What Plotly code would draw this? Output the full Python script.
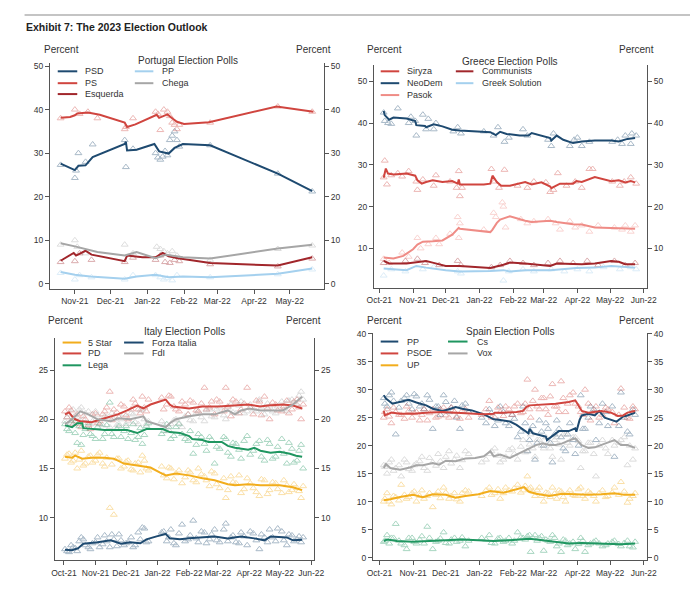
import plotly.graph_objects as go

# ======================= DATA =======================
# ---- Portugal ----
PT_PSD_LINE_D = ["2021-10-20","2021-11-01","2021-11-04","2021-11-10","2021-11-16","2021-11-23","2021-12-13","2021-12-14","2021-12-15","2021-12-23","2022-01-07","2022-01-11","2022-01-17","2022-01-19","2022-01-24","2022-01-31","2022-02-23","2022-04-21","2022-05-20"]
PT_PSD_LINE_V = [27.6,26.1,27.1,27.2,29.1,29.9,32.1,32.6,30.6,30.8,32.1,30.4,29.9,29.9,31.2,32.1,31.8,25.3,21.3]
PT_PS_LINE_D = ["2021-10-20","2021-10-28","2021-11-01","2021-11-03","2021-11-12","2021-11-22","2021-12-13","2021-12-15","2021-12-22","2022-01-09","2022-01-11","2022-01-18","2022-01-22","2022-01-26","2022-02-01","2022-02-22","2022-04-20","2022-05-21"]
PT_PS_LINE_V = [38.1,38.3,38.7,39.1,39.3,38.8,37.0,36.0,36.6,38.8,38.1,38.9,38.0,37.2,36.7,37.1,40.7,39.5]
PT_ESQ_LINE_D = ["2021-10-20","2021-10-31","2021-11-02","2021-11-10","2021-11-15","2021-12-13","2021-12-15","2021-12-28","2022-01-08","2022-01-14","2022-01-19","2022-01-27","2022-02-23","2022-04-21","2022-05-20"]
PT_ESQ_LINE_V = [5.3,7.1,6.5,7.6,6.7,5.2,6.5,6.1,6.1,7.1,6.3,5.9,4.8,4.2,6.1]
PT_CHEGA_LINE_D = ["2021-10-20","2021-11-01","2021-11-20","2021-12-13","2021-12-23","2022-01-08","2022-01-17","2022-01-31","2022-02-23","2022-04-21","2022-05-20"]
PT_CHEGA_LINE_V = [9.3,8.6,7.3,6.5,7.3,5.9,6.7,6.1,5.8,8.1,9.0]
PT_PP_LINE_D = ["2021-10-20","2021-11-01","2021-11-14","2021-12-13","2021-12-23","2022-01-08","2022-01-19","2022-01-31","2022-02-23","2022-04-21","2022-05-20"]
PT_PP_LINE_V = [2.7,2.1,1.7,1.2,1.7,2.1,1.5,1.7,1.5,2.3,3.5]

PT_PSD_PTS_D = ["2021-10-20","2021-11-01","2021-11-02","2021-11-04","2021-11-10","2021-11-16","2021-12-13","2021-12-14","2021-12-20","2022-01-08","2022-01-10","2022-01-12","2022-01-14","2022-01-16","2022-01-18","2022-01-20","2022-01-22","2022-01-24","2022-01-26","2022-01-28","2022-02-23","2022-04-21","2022-05-20"]
PT_PSD_PTS_V = [27.3,24.3,26.0,30.0,28.0,32.0,33.0,26.8,31.0,30.0,29.0,28.5,29.2,30.5,29.5,33.0,34.0,35.0,33.0,31.5,31.8,25.3,21.2]
PT_PS_PTS_D = ["2021-10-20","2021-11-01","2021-11-05","2021-11-12","2021-11-20","2021-12-13","2021-12-14","2021-12-20","2022-01-08","2022-01-10","2022-01-12","2022-01-15","2022-01-18","2022-01-20","2022-01-22","2022-01-24","2022-01-26","2022-01-28","2022-02-23","2022-04-21","2022-05-20"]
PT_PS_PTS_V = [38.0,40.0,39.0,39.5,38.0,35.5,36.0,38.0,39.5,39.0,35.3,40.0,39.5,38.5,37.0,36.5,35.5,36.5,37.0,40.7,39.5]
PT_ESQ_PTS_D = ["2021-10-20","2021-11-01","2021-11-05","2021-11-15","2021-12-13","2021-12-20","2022-01-08","2022-01-12","2022-01-16","2022-01-20","2022-01-24","2022-01-28","2022-02-23","2022-04-21","2022-05-20"]
PT_ESQ_PTS_V = [5.0,5.2,7.0,5.5,5.0,6.0,5.5,6.5,5.0,4.8,5.5,5.2,4.5,4.0,5.8]
PT_CHEGA_PTS_D = ["2021-10-20","2021-11-01","2021-11-03","2021-11-10","2021-12-13","2021-12-20","2022-01-09","2022-01-12","2022-01-15","2022-01-18","2022-01-22","2022-01-26","2022-02-23","2022-04-21","2022-05-20"]
PT_CHEGA_PTS_V = [9.0,10.0,8.5,7.0,9.0,7.0,8.5,8.0,7.5,7.0,7.5,6.5,5.5,8.0,8.8]
PT_PP_PTS_D = ["2021-10-20","2021-11-01","2021-11-05","2021-11-15","2021-12-13","2021-12-20","2022-01-08","2022-01-12","2022-01-15","2022-01-18","2022-01-22","2022-01-26","2022-02-23","2022-04-21","2022-05-20"]
PT_PP_PTS_V = [2.5,1.0,2.0,1.5,1.0,2.0,2.0,1.5,1.0,1.3,0.8,2.0,1.5,2.2,3.3]

# ---- Greece ----
GR_ND_LINE_D = ["2021-10-05","2021-10-06","2021-10-10","2021-10-14","2021-10-26","2021-11-03","2021-11-04","2021-11-12","2021-11-13","2021-11-20","2021-11-28","2021-12-07","2021-12-14","2022-01-05","2022-01-11","2022-01-16","2022-01-20","2022-01-26","2022-02-07","2022-02-15","2022-02-18","2022-03-07","2022-03-08","2022-03-13","2022-03-19","2022-03-28","2022-04-05","2022-04-17","2022-05-02","2022-05-09","2022-05-17","2022-05-24"]
GR_ND_LINE_V = [42.9,41.9,40.8,41.3,41.1,40.5,39.5,39.3,39.0,39.7,39.2,38.4,38.2,37.9,37.8,37.1,37.9,37.4,37.0,37.0,37.6,36.4,35.8,37.0,36.0,35.2,35.6,35.8,35.8,35.6,36.2,36.4]
GR_SYR_LINE_D = ["2021-10-05","2021-10-07","2021-10-09","2021-10-14","2021-10-26","2021-11-03","2021-11-05","2021-11-09","2021-11-13","2021-11-19","2021-11-28","2021-12-07","2021-12-12","2021-12-13","2021-12-14","2022-01-05","2022-01-11","2022-01-13","2022-01-17","2022-01-21","2022-01-29","2022-02-12","2022-02-18","2022-02-27","2022-03-07","2022-03-08","2022-03-16","2022-03-28","2022-03-31","2022-04-05","2022-04-17","2022-05-02","2022-05-09","2022-05-15","2022-05-20","2022-05-24"]
GR_SYR_LINE_V = [26.9,29.1,27.9,27.7,27.9,27.4,26.3,25.5,25.9,26.3,25.9,26.1,25.5,26.5,25.3,25.3,25.5,27.4,25.9,25.0,25.0,25.9,25.3,25.8,24.8,24.4,25.5,25.5,26.1,25.9,27.1,26.1,26.3,25.8,26.1,25.8]
GR_PAS_LINE_D = ["2021-10-05","2021-10-14","2021-10-23","2021-11-01","2021-11-05","2021-11-10","2021-11-19","2021-11-28","2021-12-07","2021-12-13","2021-12-14","2022-01-11","2022-01-13","2022-01-17","2022-01-20","2022-01-29","2022-02-12","2022-02-18","2022-03-07","2022-03-13","2022-03-28","2022-04-05","2022-04-17","2022-05-02","2022-05-17","2022-05-24"]
GR_PAS_LINE_V = [7.8,7.6,8.2,9.8,10.9,11.6,11.7,11.9,13.3,14.9,14.7,13.9,14.5,16.1,16.9,17.7,16.6,16.3,16.6,16.3,15.8,15.7,15.0,14.9,14.7,14.7]
GR_COM_LINE_D = ["2021-10-05","2021-10-10","2021-10-26","2021-11-07","2021-11-13","2021-11-19","2021-12-01","2021-12-14","2022-01-11","2022-01-23","2022-01-29","2022-02-12","2022-03-07","2022-03-13","2022-04-05","2022-04-17","2022-05-02","2022-05-09","2022-05-15","2022-05-24"]
GR_COM_LINE_V = [7.0,6.4,6.4,6.8,7.0,6.6,5.8,5.8,5.3,6.1,6.6,6.4,5.8,6.4,6.2,6.4,7.0,6.8,6.2,6.2]
GR_GS_LINE_D = ["2021-10-05","2021-10-26","2021-11-04","2021-11-13","2021-12-01","2021-12-14","2022-01-11","2022-01-23","2022-01-29","2022-02-12","2022-03-07","2022-03-31","2022-04-17","2022-05-02","2022-05-24"]
GR_GS_LINE_V = [5.2,4.8,5.8,5.4,4.8,4.5,4.6,4.8,4.5,4.8,4.8,5.3,5.4,5.8,5.4]

GR_ND_PTS_D = ["2021-10-05","2021-10-06","2021-10-09","2021-10-12","2021-10-18","2021-10-28","2021-10-30","2021-11-03","2021-11-04","2021-11-10","2021-11-13","2021-11-15","2021-11-20","2021-11-22","2021-12-08","2021-12-12","2021-12-15","2022-01-05","2022-01-14","2022-01-18","2022-01-24","2022-01-28","2022-02-10","2022-02-14","2022-03-05","2022-03-08","2022-03-10","2022-03-25","2022-03-29","2022-04-01","2022-04-05","2022-04-12","2022-05-03","2022-05-08","2022-05-12","2022-05-15","2022-05-20","2022-05-21","2022-05-25"]
GR_ND_PTS_V = [42.5,40.5,40.0,39.8,43.5,40.0,41.5,40.5,37.0,42.0,38.5,41.0,38.5,40.0,38.0,39.0,37.5,38.0,37.0,39.0,35.5,36.5,38.5,37.0,36.0,34.5,37.5,34.5,36.0,36.5,34.5,35.5,35.5,36.0,35.0,37.0,35.0,37.5,37.0]
GR_SYR_PTS_D = ["2021-10-05","2021-10-06","2021-10-08","2021-10-12","2021-10-18","2021-10-22","2021-10-28","2021-11-04","2021-11-05","2021-11-10","2021-11-20","2021-11-22","2021-12-05","2021-12-11","2021-12-13","2021-12-14","2021-12-16","2022-01-12","2022-01-15","2022-01-19","2022-01-24","2022-02-05","2022-02-14","2022-02-20","2022-03-03","2022-03-07","2022-03-10","2022-03-14","2022-03-22","2022-03-30","2022-04-05","2022-04-12","2022-04-15","2022-05-03","2022-05-10","2022-05-14","2022-05-20","2022-05-25"]
GR_SYR_PTS_V = [27.0,31.0,25.3,27.5,28.0,27.2,28.5,26.0,24.0,26.5,25.0,27.5,26.0,24.5,28.5,22.5,24.5,29.0,26.0,24.5,28.8,25.0,24.5,26.0,25.8,23.5,24.0,28.0,25.0,26.0,24.5,29.0,29.0,26.0,25.0,26.0,27.0,25.5]
GR_PAS_PTS_D = ["2021-10-05","2021-10-10","2021-10-22","2021-10-28","2021-11-05","2021-11-08","2021-11-15","2021-11-22","2021-11-25","2021-12-05","2021-12-12","2021-12-13","2021-12-14","2022-01-05","2022-01-14","2022-01-16","2022-01-22","2022-01-23","2022-01-25","2022-02-08","2022-02-14","2022-02-20","2022-03-05","2022-03-12","2022-03-16","2022-03-25","2022-03-30","2022-04-05","2022-04-12","2022-04-20","2022-05-05","2022-05-12","2022-05-15","2022-05-20","2022-05-24"]
GR_PAS_PTS_V = [7.5,6.5,9.0,8.0,12.5,10.0,11.0,12.5,11.0,13.5,17.5,12.5,16.0,14.5,18.5,17.5,21.0,20.0,15.0,17.0,16.0,16.5,17.0,16.0,14.5,16.5,15.0,15.5,14.0,15.5,15.0,14.5,15.5,14.0,15.5]
GR_COM_PTS_D = ["2021-10-05","2021-10-25","2021-11-05","2021-11-12","2021-11-25","2021-12-12","2021-12-15","2022-01-12","2022-01-20","2022-01-29","2022-02-10","2022-02-20","2022-03-05","2022-03-16","2022-03-28","2022-04-10","2022-04-20","2022-05-05","2022-05-15","2022-05-24"]
GR_COM_PTS_V = [6.5,7.0,7.5,6.5,6.0,7.0,6.0,5.5,6.0,7.0,6.5,6.0,6.5,7.0,6.5,7.0,6.0,7.0,6.0,6.5]
GR_GS_PTS_D = ["2021-10-05","2021-10-12","2021-10-25","2021-11-10","2021-11-20","2021-12-12","2021-12-15","2022-01-12","2022-01-23","2022-01-28","2022-02-10","2022-02-20","2022-03-08","2022-03-20","2022-04-01","2022-04-12","2022-04-25","2022-05-10","2022-05-20","2022-05-25"]
GR_GS_PTS_V = [3.5,5.0,4.5,5.0,5.5,4.5,4.0,5.0,2.3,4.5,5.0,4.5,5.0,4.5,5.0,4.5,5.5,5.0,5.5,5.0]

# ---- Italy ----
IT_PD_LINE_D = ["2021-10-02","2021-10-06","2021-10-09","2021-10-12","2021-10-17","2021-10-28","2021-11-10","2021-11-23","2021-12-02","2021-12-12","2021-12-18","2021-12-25","2022-01-03","2022-01-09","2022-01-13","2022-01-16","2022-02-01","2022-02-14","2022-03-02","2022-03-18","2022-03-31","2022-04-12","2022-04-19","2022-05-04","2022-05-14","2022-05-23"]
IT_PD_LINE_V = [20.5,20.7,20.3,20.0,19.8,19.7,20.1,20.5,20.9,21.4,21.1,21.5,21.8,22.0,21.5,21.3,21.1,21.3,21.3,21.4,21.5,21.3,21.4,21.5,21.4,21.1]
IT_FDI_LINE_D = ["2021-10-02","2021-10-09","2021-10-17","2021-10-25","2021-11-03","2021-11-16","2021-11-23","2021-12-05","2021-12-18","2021-12-21","2021-12-31","2022-01-09","2022-01-13","2022-01-19","2022-02-01","2022-02-14","2022-02-26","2022-03-11","2022-03-18","2022-03-24","2022-04-01","2022-04-12","2022-04-25","2022-05-04","2022-05-14","2022-05-23"]
IT_FDI_LINE_V = [19.5,20.0,20.8,20.5,20.0,19.8,20.1,20.0,20.3,19.8,19.5,19.2,19.6,20.0,20.3,20.5,20.5,20.9,20.5,20.9,21.1,20.9,20.9,20.9,21.5,22.3]
IT_LEGA_LINE_D = ["2021-10-02","2021-10-09","2021-10-14","2021-10-19","2021-10-20","2021-10-28","2021-11-10","2021-11-23","2021-12-02","2021-12-12","2021-12-21","2022-01-06","2022-01-13","2022-01-23","2022-02-01","2022-02-04","2022-02-14","2022-02-20","2022-03-05","2022-03-11","2022-03-18","2022-03-31","2022-04-06","2022-04-12","2022-04-22","2022-05-01","2022-05-11","2022-05-17","2022-05-23"]
IT_LEGA_LINE_V = [19.4,19.2,19.6,19.6,19.1,19.0,18.9,18.9,18.9,18.6,19.0,19.0,18.7,18.6,18.3,18.0,17.9,17.7,17.7,17.3,17.1,16.9,17.1,16.8,16.6,16.7,16.5,16.3,16.2]
IT_5S_LINE_D = ["2021-10-02","2021-10-09","2021-10-12","2021-10-19","2021-10-28","2021-11-10","2021-11-19","2021-11-29","2021-12-12","2021-12-25","2022-01-03","2022-01-09","2022-01-19","2022-02-01","2022-02-14","2022-02-26","2022-03-11","2022-03-18","2022-03-31","2022-04-12","2022-05-01","2022-05-14","2022-05-23"]
IT_5S_LINE_V = [16.2,16.1,16.3,16.0,16.1,16.1,16.0,15.5,15.3,15.1,14.6,14.3,14.5,14.3,14.0,13.8,13.4,13.3,13.4,13.3,13.3,13.1,12.8]
IT_FI_LINE_D = ["2021-10-02","2021-10-09","2021-10-15","2021-10-20","2021-11-03","2021-11-16","2021-11-26","2021-12-05","2021-12-15","2021-12-21","2021-12-31","2022-01-09","2022-01-13","2022-01-23","2022-02-01","2022-02-14","2022-02-26","2022-03-11","2022-03-24","2022-04-06","2022-04-16","2022-04-22","2022-05-08","2022-05-14","2022-05-23"]
IT_FI_LINE_V = [6.75,6.7,6.9,7.35,7.5,7.7,7.35,7.5,7.4,7.8,8.1,8.35,7.9,7.8,7.9,8.0,8.1,7.9,8.1,7.9,7.7,8.1,8.0,7.7,7.75]

IT_POLL_DATES = ["2021-10-02","2021-10-06","2021-10-10","2021-10-14","2021-10-18","2021-10-22","2021-10-27","2021-11-01","2021-11-05","2021-11-10","2021-11-15","2021-11-19","2021-11-24","2021-11-29","2021-12-03","2021-12-08","2021-12-13","2021-12-17","2021-12-21","2022-01-05","2022-01-10","2022-01-14","2022-01-19","2022-01-25","2022-01-31","2022-02-05","2022-02-10","2022-02-16","2022-02-21","2022-02-26","2022-03-03","2022-03-09","2022-03-14","2022-03-19","2022-03-24","2022-03-30","2022-04-05","2022-04-11","2022-04-16","2022-04-21","2022-04-27","2022-05-03","2022-05-08","2022-05-13","2022-05-18","2022-05-22","2022-05-24"]
IT_PD_PTS = [20.8,21.2,19.5,20.5,19.2,20.0,19.0,20.6,19.8,20.8,22.8,21.0,20.2,21.3,20.0,22.0,21.0,22.3,20.8,22.2,21.5,22.3,21.0,21.8,20.5,21.7,20.8,23.2,21.2,20.5,21.8,23.2,20.3,21.8,21.0,23.2,20.5,21.8,22.3,20.0,21.5,20.8,21.9,21.0,22.0,20.0,21.5]
IT_FDI_PTS = [19.8,20.5,21.0,20.2,21.2,20.6,19.5,20.8,19.5,20.3,19.2,20.0,19.5,20.5,19.8,20.5,19.5,21.0,19.5,19.8,18.8,19.5,20.0,19.2,20.5,19.8,20.8,19.8,21.0,20.2,21.2,20.0,21.5,20.6,21.8,20.8,21.0,22.0,20.5,21.3,20.6,21.8,20.8,22.0,21.5,22.8,22.0]
IT_LEGA_PTS = [19.5,18.8,20.0,17.6,17.4,19.0,18.5,18.0,19.5,18.5,21.7,18.2,19.3,18.8,18.0,19.5,18.2,17.5,19.3,18.5,19.5,18.0,19.2,18.5,17.8,16.5,18.5,17.5,18.2,15.5,17.0,18.0,16.2,17.5,16.0,18.3,16.8,17.8,15.8,17.5,16.2,18.0,15.5,17.0,15.8,17.4,15.0]
IT_5S_PTS = [16.0,16.5,15.8,15.0,16.8,15.5,16.3,15.8,16.6,15.2,11.0,10.3,16.0,15.2,15.8,14.8,15.6,16.3,15.0,15.2,14.0,15.0,14.5,13.5,14.8,13.8,15.0,14.2,13.2,14.5,13.0,12.0,14.2,13.5,12.5,14.0,13.0,12.2,13.8,12.8,13.5,12.5,13.3,12.8,13.0,12.0,13.2]
IT_FI_PTS = [6.8,6.5,7.0,6.6,8.0,7.2,6.8,7.5,7.0,8.2,7.0,7.8,8.3,7.2,7.5,7.0,8.5,9.0,7.5,8.5,7.6,8.8,7.2,9.3,7.8,9.7,7.5,8.5,7.8,8.8,7.5,9.4,8.0,7.5,8.5,7.2,8.4,6.8,8.0,8.8,7.6,8.6,7.2,8.2,7.8,7.5,8.0]

IT_POLL_DATES_B = ["2021-10-04","2021-10-08","2021-10-12","2021-10-16","2021-10-20","2021-10-25","2021-10-29","2021-11-03","2021-11-08","2021-11-12","2021-11-17","2021-11-22","2021-11-26","2021-12-01","2021-12-06","2021-12-10","2021-12-15","2021-12-19","2021-12-23","2022-01-07","2022-01-12","2022-01-17","2022-01-22","2022-01-28","2022-02-02","2022-02-08","2022-02-13","2022-02-18","2022-02-23","2022-02-28","2022-03-07","2022-03-11","2022-03-16","2022-03-22","2022-03-27","2022-04-02","2022-04-08","2022-04-13","2022-04-19","2022-04-24","2022-04-29","2022-05-05","2022-05-10","2022-05-15","2022-05-20"]
IT_PD_PTS_B = [20.2,20.9,19.8,19.5,20.3,19.4,20.5,19.6,20.5,21.2,19.9,20.7,21.5,20.4,21.0,21.6,20.6,21.2,22.0,21.0,22.4,21.3,20.8,21.5,21.9,20.9,21.6,21.0,21.8,22.0,20.8,21.3,22.0,20.6,21.6,21.2,21.9,20.4,21.1,21.7,20.9,21.3,20.6,21.8,21.2]
IT_FDI_PTS_B = [20.2,19.6,20.4,21.0,20.0,20.8,19.8,20.4,19.4,20.2,20.6,19.4,20.0,19.5,20.6,19.7,20.9,20.0,19.8,19.4,18.9,19.9,19.6,20.3,19.9,20.6,20.2,20.9,20.3,21.0,20.4,21.2,20.7,21.4,20.6,21.5,20.8,21.2,21.6,20.8,21.3,21.0,21.9,21.7,22.4]
IT_LEGA_PTS_B = [19.0,19.8,18.6,19.3,18.4,19.6,18.3,19.2,18.0,19.4,18.5,19.0,18.2,19.3,18.6,17.9,19.1,18.4,19.6,18.8,19.2,18.3,19.5,18.0,18.8,17.4,18.2,16.8,17.9,17.2,18.2,16.6,17.6,16.9,17.8,16.4,17.5,16.2,17.9,16.0,17.2,16.5,17.6,15.6,16.8]
IT_5S_PTS_B = [16.4,15.6,16.6,15.9,15.3,16.2,15.6,16.4,15.5,16.1,15.4,16.0,15.0,15.7,14.9,15.5,14.6,15.8,14.8,14.3,15.1,13.9,14.8,14.1,14.6,13.6,14.4,13.8,14.7,13.4,14.0,12.8,13.6,14.3,12.9,13.5,12.6,13.9,12.4,13.6,12.9,13.8,12.6,13.4,12.7]
IT_FI_PTS_B = [6.6,7.2,6.9,7.6,7.8,7.0,7.4,8.0,7.3,7.6,8.3,7.1,7.7,7.4,8.0,7.2,7.8,8.9,7.6,8.6,8.0,7.4,8.4,7.6,8.2,7.9,8.6,7.4,8.3,7.7,8.8,7.6,8.2,7.4,8.1,8.6,7.7,8.3,7.5,8.0,8.9,7.7,8.3,7.6,8.1]

# ---- Spain ----
ES_PP_LINE_D = ["2021-10-05","2021-10-07","2021-10-13","2021-10-20","2021-10-28","2021-11-04","2021-11-13","2021-11-19","2021-11-28","2021-12-04","2021-12-10","2021-12-16","2021-12-25","2022-01-05","2022-01-14","2022-01-20","2022-01-29","2022-02-04","2022-02-10","2022-02-15","2022-02-16","2022-02-19","2022-02-25","2022-03-03","2022-03-04","2022-03-09","2022-03-15","2022-03-24","2022-03-30","2022-03-31","2022-04-03","2022-04-05","2022-04-11","2022-04-17","2022-04-21","2022-04-26","2022-05-02","2022-05-07","2022-05-13","2022-05-17","2022-05-24"]
ES_PP_LINE_V = [29.0,28.4,27.5,27.8,28.2,27.7,27.2,26.6,26.2,26.5,26.9,26.6,26.3,25.6,24.7,24.6,24.3,23.7,22.8,22.2,23.0,22.2,21.9,21.6,21.0,21.8,22.6,22.6,23.1,22.5,24.6,25.4,25.7,25.4,26.2,25.0,24.6,24.3,25.2,25.4,25.9]
ES_PSOE_LINE_D = ["2021-10-05","2021-10-06","2021-10-12","2021-10-20","2021-11-01","2021-11-13","2021-11-28","2021-12-10","2021-12-19","2022-01-05","2022-01-14","2022-01-15","2022-01-23","2022-02-04","2022-02-10","2022-02-13","2022-02-16","2022-02-28","2022-03-12","2022-03-24","2022-03-30","2022-03-31","2022-04-05","2022-04-11","2022-04-23","2022-05-02","2022-05-08","2022-05-13","2022-05-17","2022-05-24"]
ES_PSOE_LINE_V = [26.2,25.4,25.9,25.7,25.7,25.9,26.0,25.9,25.7,25.6,25.7,25.9,25.9,26.0,26.2,26.9,27.2,27.3,27.5,27.8,28.1,27.8,26.2,25.9,26.2,25.9,25.3,25.4,25.9,26.2]
ES_VOX_LINE_D = ["2021-10-05","2021-10-07","2021-10-11","2021-10-20","2021-10-29","2021-11-04","2021-11-10","2021-11-19","2021-11-25","2021-12-01","2021-12-10","2021-12-19","2021-12-28","2022-01-05","2022-01-11","2022-01-14","2022-01-20","2022-01-29","2022-02-04","2022-02-10","2022-02-16","2022-02-22","2022-02-28","2022-03-06","2022-03-12","2022-03-18","2022-03-24","2022-03-30","2022-04-05","2022-04-11","2022-04-17","2022-04-23","2022-04-29","2022-05-05","2022-05-11","2022-05-17","2022-05-24"]
ES_VOX_LINE_V = [16.0,16.7,16.0,15.7,16.1,16.5,16.5,16.9,16.6,17.3,17.2,17.7,17.8,18.1,19.0,18.1,18.4,17.8,18.4,19.0,19.6,20.1,20.4,20.1,20.1,20.4,20.9,21.3,20.1,19.6,19.7,20.1,20.6,21.0,20.1,20.1,19.6]
ES_UP_LINE_D = ["2021-10-05","2021-10-11","2021-10-20","2021-11-01","2021-11-10","2021-11-19","2021-12-01","2021-12-10","2021-12-19","2021-12-31","2022-01-11","2022-01-23","2022-02-04","2022-02-11","2022-02-15","2022-02-22","2022-03-06","2022-03-18","2022-03-30","2022-04-11","2022-04-23","2022-05-05","2022-05-14","2022-05-24"]
ES_UP_LINE_V = [10.25,10.4,10.8,11.2,10.8,11.3,11.2,10.7,11.0,11.3,11.9,11.6,12.2,12.6,11.8,11.4,11.0,11.4,11.3,11.2,11.3,11.5,11.2,11.2]
ES_CS_LINE_D = ["2021-10-05","2021-10-08","2021-10-17","2021-11-01","2021-11-16","2021-12-01","2021-12-16","2021-12-31","2022-01-14","2022-01-29","2022-02-10","2022-02-16","2022-02-28","2022-03-12","2022-03-24","2022-04-05","2022-04-17","2022-04-29","2022-05-11","2022-05-24"]
ES_CS_LINE_V = [2.95,3.2,2.95,2.8,2.95,3.1,3.2,3.1,2.95,3.1,3.35,3.35,3.1,2.8,2.5,2.6,2.5,2.5,2.35,2.5]

ES_POLL_DATES = ["2021-10-05","2021-10-08","2021-10-12","2021-10-16","2021-10-21","2021-10-26","2021-10-31","2021-11-04","2021-11-09","2021-11-14","2021-11-19","2021-11-24","2021-11-29","2021-12-04","2021-12-09","2021-12-14","2021-12-19","2022-01-03","2022-01-10","2022-01-15","2022-01-20","2022-01-25","2022-01-31","2022-02-05","2022-02-10","2022-02-14","2022-02-17","2022-02-21","2022-02-25","2022-03-01","2022-03-05","2022-03-09","2022-03-13","2022-03-17","2022-03-21","2022-03-25","2022-03-30","2022-04-04","2022-04-08","2022-04-13","2022-04-18","2022-04-24","2022-04-29","2022-05-05","2022-05-11","2022-05-17","2022-05-22"]
ES_PP_PTS = [28.5,27.0,29.5,22.0,28.0,29.0,26.5,28.8,27.5,29.0,23.0,27.0,29.0,26.0,28.0,23.0,27.5,25.0,26.5,23.5,27.0,24.0,25.5,21.5,27.0,19.0,22.5,17.5,24.5,20.0,23.0,17.0,24.5,21.5,19.0,24.0,18.5,29.0,23.0,27.0,21.0,27.5,23.5,18.0,29.5,22.5,26.5]
ES_PSOE_PTS = [25.0,26.5,24.0,26.0,25.5,27.0,25.0,26.0,25.5,24.5,26.5,25.2,26.8,25.0,26.0,24.8,26.5,25.5,28.0,25.0,26.0,27.0,25.5,27.5,26.0,31.8,25.0,30.0,26.5,28.5,25.5,31.0,27.0,31.5,26.0,29.0,27.5,26.0,30.0,24.5,27.0,25.5,26.5,24.0,30.2,25.0,27.0]
ES_VOX_PTS = [16.5,15.0,17.5,16.0,14.5,17.0,15.5,16.8,18.0,15.5,17.0,18.5,16.0,19.0,17.5,16.0,19.0,17.0,18.5,19.5,17.0,18.0,19.5,17.5,21.0,19.0,22.0,18.0,21.0,19.5,20.5,18.0,21.5,17.5,22.0,20.0,21.5,16.0,19.0,20.5,14.5,21.0,18.5,20.0,21.0,16.5,17.5]
ES_UP_PTS = [10.0,11.5,9.5,10.8,13.0,10.5,11.5,10.0,12.0,11.0,9.0,11.8,12.5,10.5,11.5,10.0,12.0,11.0,12.5,11.5,10.5,12.5,11.8,13.0,12.0,14.5,12.5,11.0,12.5,10.0,11.5,12.5,10.5,11.8,10.0,12.0,11.0,12.5,10.5,11.5,10.0,12.0,11.0,12.5,13.5,9.8,11.0]
ES_CS_PTS = [2.8,4.0,3.5,6.0,2.5,1.5,3.5,2.5,3.8,5.5,1.5,3.0,4.5,2.5,3.5,3.0,2.0,3.5,4.0,2.5,3.5,3.0,2.5,4.5,3.5,3.8,1.0,4.0,3.5,1.2,3.0,4.0,2.0,1.0,3.0,2.5,1.5,3.5,1.0,2.5,3.0,2.0,2.5,3.0,2.0,3.0,1.8]

ES_POLL_DATES_B = ["2021-10-06","2021-10-10","2021-10-14","2021-10-19","2021-10-24","2021-10-28","2021-11-02","2021-11-07","2021-11-11","2021-11-16","2021-11-22","2021-11-26","2021-12-01","2021-12-06","2021-12-11","2021-12-16","2021-12-22","2022-01-07","2022-01-12","2022-01-18","2022-01-23","2022-01-28","2022-02-02","2022-02-08","2022-02-12","2022-02-16","2022-02-19","2022-02-23","2022-02-27","2022-03-03","2022-03-07","2022-03-11","2022-03-15","2022-03-19","2022-03-23","2022-03-28","2022-04-02","2022-04-06","2022-04-11","2022-04-16","2022-04-21","2022-04-27","2022-05-03","2022-05-09","2022-05-14","2022-05-19","2022-05-24"]
ES_PP_PTS_B = [27.5,29.0,28.0,26.8,28.5,27.5,29.2,27.0,26.5,28.2,27.0,25.5,27.8,26.8,25.0,27.2,26.0,24.0,25.8,24.5,26.0,23.5,24.8,22.5,24.0,21.0,23.5,20.5,22.5,24.0,20.5,22.0,23.0,19.5,22.0,21.0,20.0,23.0,25.0,26.5,24.0,26.0,27.0,23.5,25.0,22.0,25.5]
ES_PSOE_PTS_B = [26.0,25.2,26.8,25.5,24.8,26.2,25.8,24.5,26.5,25.8,25.0,26.5,25.4,26.8,25.2,26.2,25.0,26.5,25.0,26.8,25.3,26.5,27.0,25.8,27.5,26.5,28.0,27.0,28.5,26.5,28.8,27.0,26.0,28.5,27.5,29.5,27.0,25.5,27.5,26.0,25.0,26.8,26.0,25.5,26.8,24.8,26.5]
ES_VOX_PTS_B = [16.2,17.0,15.5,16.5,17.5,15.8,16.5,17.2,16.0,17.8,16.4,17.2,18.0,16.8,18.2,17.4,18.5,17.5,19.0,18.2,17.5,19.2,18.5,19.8,18.8,20.2,19.5,21.0,20.0,21.5,19.5,21.0,20.2,22.0,20.5,21.5,20.8,19.0,20.5,18.5,20.0,19.5,21.0,20.5,21.5,20.0,19.5]
ES_UP_PTS_B = [10.5,10.0,11.0,10.2,11.2,10.8,11.8,11.0,10.5,11.5,11.2,10.6,11.6,11.0,10.4,11.5,11.8,12.0,11.2,12.2,11.5,12.0,12.4,11.6,12.8,12.2,11.8,12.0,11.0,11.6,10.8,11.4,12.0,10.8,11.5,11.2,12.2,11.0,11.8,11.0,11.5,10.8,11.6,11.2,11.8,10.5,11.5]
ES_CS_PTS_B = [3.0,2.5,3.5,3.0,2.2,3.5,2.8,3.2,2.5,3.5,2.8,3.4,2.6,3.2,2.8,3.6,3.0,3.2,2.6,3.4,2.8,3.5,3.0,3.6,3.2,4.0,3.5,3.0,3.8,3.2,2.8,3.5,2.5,3.2,2.2,2.8,2.4,3.0,2.2,2.8,2.5,2.2,2.8,2.4,2.6,2.0,2.8]

# ---- labels ----
TITLE = "Exhibit 7: The 2023 Election Outlook"
PANEL_TITLES = ["Portugal Election Polls", "Greece Election Polls", "Italy Election Polls", "Spain Election Polls"]
AXIS_LABEL = "Percent"

# ======================= STYLE =======================
W, H = 700, 593
NAVY = "#1e4a70"; RED = "#d0453f"; DARKRED = "#a1262b"; PINK = "#ef8c86"
LIGHTBLUE = "#a4d0ee"; GRAY = "#a6a6a6"; GOLD = "#f2ad1c"; GREEN = "#1f9660"
AXC = "#555555"; TXT = "#333333"
FONT = "Liberation Sans, Arial, sans-serif"

def fx(p): return p / W
def fy(p): return 1 - p / H

PANELS = [
    dict(px=(44, 325, 60, 288), xr=["2021-10-11", "2022-05-30"], yr=[-1.2, 50.6], yt=[0, 10, 20, 30, 40, 50]),
    dict(px=(376, 656, 62, 287), xr=["2021-09-26", "2022-06-04"], yr=[0.5, 53.8], yt=[10, 20, 30, 40, 50]),
    dict(px=(49, 315, 337, 562), xr=["2021-09-22", "2022-06-04"], yr=[5.67, 28.3], yt=[10, 15, 20, 25]),
    dict(px=(375, 656, 332, 562), xr=["2021-09-25", "2022-06-04"], yr=[-0.5, 40.2], yt=[0, 5, 10, 15, 20, 25, 30, 35, 40]),
]

IT_D = IT_POLL_DATES + IT_POLL_DATES_B
ES_D = ES_POLL_DATES + ES_POLL_DATES_B

SERIES = [
    [("PSD", NAVY, PT_PSD_LINE_D, PT_PSD_LINE_V, PT_PSD_PTS_D, PT_PSD_PTS_V),
     ("PS", RED, PT_PS_LINE_D, PT_PS_LINE_V, PT_PS_PTS_D, PT_PS_PTS_V),
     ("Esquerda", DARKRED, PT_ESQ_LINE_D, PT_ESQ_LINE_V, PT_ESQ_PTS_D, PT_ESQ_PTS_V),
     ("PP", LIGHTBLUE, PT_PP_LINE_D, PT_PP_LINE_V, PT_PP_PTS_D, PT_PP_PTS_V),
     ("Chega", GRAY, PT_CHEGA_LINE_D, PT_CHEGA_LINE_V, PT_CHEGA_PTS_D, PT_CHEGA_PTS_V)],
    [("Siryza", RED, GR_SYR_LINE_D, GR_SYR_LINE_V, GR_SYR_PTS_D, GR_SYR_PTS_V),
     ("NeoDem", NAVY, GR_ND_LINE_D, GR_ND_LINE_V, GR_ND_PTS_D, GR_ND_PTS_V),
     ("Pasok", PINK, GR_PAS_LINE_D, GR_PAS_LINE_V, GR_PAS_PTS_D, GR_PAS_PTS_V),
     ("Communists", DARKRED, GR_COM_LINE_D, GR_COM_LINE_V, GR_COM_PTS_D, GR_COM_PTS_V),
     ("Greek Solution", LIGHTBLUE, GR_GS_LINE_D, GR_GS_LINE_V, GR_GS_PTS_D, GR_GS_PTS_V)],
    [("5 Star", GOLD, IT_5S_LINE_D, IT_5S_LINE_V, IT_D, IT_5S_PTS + IT_5S_PTS_B),
     ("PD", RED, IT_PD_LINE_D, IT_PD_LINE_V, IT_D, IT_PD_PTS + IT_PD_PTS_B),
     ("Lega", GREEN, IT_LEGA_LINE_D, IT_LEGA_LINE_V, IT_D, IT_LEGA_PTS + IT_LEGA_PTS_B),
     ("Forza Italia", NAVY, IT_FI_LINE_D, IT_FI_LINE_V, IT_D, IT_FI_PTS + IT_FI_PTS_B),
     ("FdI", GRAY, IT_FDI_LINE_D, IT_FDI_LINE_V, IT_D, IT_FDI_PTS + IT_FDI_PTS_B)],
    [("PP", NAVY, ES_PP_LINE_D, ES_PP_LINE_V, ES_D, ES_PP_PTS + ES_PP_PTS_B),
     ("PSOE", RED, ES_PSOE_LINE_D, ES_PSOE_LINE_V, ES_D, ES_PSOE_PTS + ES_PSOE_PTS_B),
     ("UP", GOLD, ES_UP_LINE_D, ES_UP_LINE_V, ES_D, ES_UP_PTS + ES_UP_PTS_B),
     ("Cs", GREEN, ES_CS_LINE_D, ES_CS_LINE_V, ES_D, ES_CS_PTS + ES_CS_PTS_B),
     ("Vox", GRAY, ES_VOX_LINE_D, ES_VOX_LINE_V, ES_D, ES_VOX_PTS + ES_VOX_PTS_B)],
]

LEGENDS = [
    dict(c=[(52, 72, 78), (131, 150, 157)], rows=[68, 80, 91]),
    dict(c=[(383, 402, 408), (460, 478, 485)], rows=[68, 80, 92]),
    dict(c=[(57, 76, 81), (120, 140, 147)], rows=[342, 353, 365]),
    dict(c=[(383, 401, 408), (452, 472, 480)], rows=[341, 353, 365]),
]
TITLE_POS = [(185, 57), (516, 58), (182, 331), (516, 331)]
PERCENT_POS = [((56, 46), (314, 46)), ((387, 46), (645, 46)), ((60, 320), (304, 320)), ((387, 320), (645, 320))]

fig = go.Figure()
shapes = []
annotations = []
layout = {}

for i, (p, series) in enumerate(zip(PANELS, SERIES)):
    n = i + 1
    xid = "x" if n == 1 else f"x{n}"
    yl = 2 * n - 1
    yr = 2 * n
    ylid = "y" if yl == 1 else f"y{yl}"
    x0, x1, yt, yb = p["px"]
    xdom = [fx(x0), fx(x1)]
    ydom = [fy(yb), fy(yt)]
    common = dict(showgrid=False, zeroline=False, showline=True, linecolor=AXC, linewidth=1,
                  ticks="outside", ticklen=4, tickcolor=AXC, tickfont=dict(size=8.5, color=TXT, family=FONT))
    layout["xaxis" if n == 1 else f"xaxis{n}"] = dict(
        domain=xdom, anchor=ylid, type="date", range=p["xr"], tickformat="%b-%y",
        dtick="M1", tick0="2021-10-01", tickangle=0, **common)
    layout["yaxis" if yl == 1 else f"yaxis{yl}"] = dict(
        domain=ydom, anchor=xid, range=p["yr"], tickvals=p["yt"], side="left", **common)
    layout[f"yaxis{yr}"] = dict(
        domain=ydom, anchor=xid, overlaying=ylid, range=p["yr"], tickvals=p["yt"], side="right", **common)

    for name, color, ld, lv, pd_, pv in series:
        fig.add_trace(go.Scatter(
            x=pd_, y=pv, mode="markers", xaxis=xid, yaxis=ylid, showlegend=False, hoverinfo="skip",
            opacity=0.38, marker=dict(symbol="triangle-up-open", size=6, color=color, line=dict(width=1, color=color))))
    for name, color, ld, lv, pd_, pv in series:
        fig.add_trace(go.Scatter(
            x=ld, y=lv, mode="lines", xaxis=xid, yaxis=ylid, showlegend=False, name=name,
            line=dict(color=color, width=2)))
    fig.add_trace(go.Scatter(x=[p["xr"][0]], y=[p["yr"][0]], mode="markers", xaxis=xid, yaxis=f"y{yr}",
                             marker=dict(opacity=0), showlegend=False, hoverinfo="skip"))

    lg = LEGENDS[i]
    slots = [(0, 0), (0, 1), (0, 2), (1, 0), (1, 1)]
    for (col, row), (name, color, *_rest) in zip(slots, series):
        lx0, lx1, tx = lg["c"][col]
        ry = lg["rows"][row]
        shapes.append(dict(type="line", xref="paper", yref="paper", x0=fx(lx0), x1=fx(lx1), y0=fy(ry), y1=fy(ry),
                           line=dict(color=color, width=2)))
        annotations.append(dict(text=name, xref="paper", yref="paper", x=fx(tx), y=fy(ry), xanchor="left",
                                yanchor="middle", showarrow=False, font=dict(size=9, color=TXT, family=FONT)))
    tx, ty = TITLE_POS[i]
    annotations.append(dict(text=PANEL_TITLES[i], xref="paper", yref="paper", x=fx(tx), y=fy(ty), xanchor="center",
                            yanchor="middle", showarrow=False, font=dict(size=10, color=TXT, family=FONT)))
    for (px_, py_) in PERCENT_POS[i]:
        annotations.append(dict(text=AXIS_LABEL, xref="paper", yref="paper", x=fx(px_), y=fy(py_), xanchor="center",
                                yanchor="middle", showarrow=False, font=dict(size=10, color=TXT, family=FONT)))

annotations.append(dict(text="<b>" + TITLE + "</b>", xref="paper", yref="paper", x=fx(17), y=fy(23),
                        xanchor="left", yanchor="middle", showarrow=False,
                        font=dict(size=10.5, color="#222222", family="Liberation Sans Narrow, Arial Narrow, Liberation Sans, sans-serif")))
shapes.append(dict(type="line", xref="paper", yref="paper", x0=fx(18), x1=1, y0=fy(11), y1=fy(11),
                   line=dict(color="#c4c4c4", width=2)))

fig.update_layout(
    width=W, height=H, margin=dict(l=0, r=0, t=0, b=0),
    paper_bgcolor="white", plot_bgcolor="white",
    showlegend=False, shapes=shapes, annotations=annotations,
    font=dict(family=FONT, color=TXT), **layout)

fig.write_html("out.html", config={"displayModeBar": False},
               post_script="document.body.style.margin='0px';document.body.style.overflow='hidden';")
